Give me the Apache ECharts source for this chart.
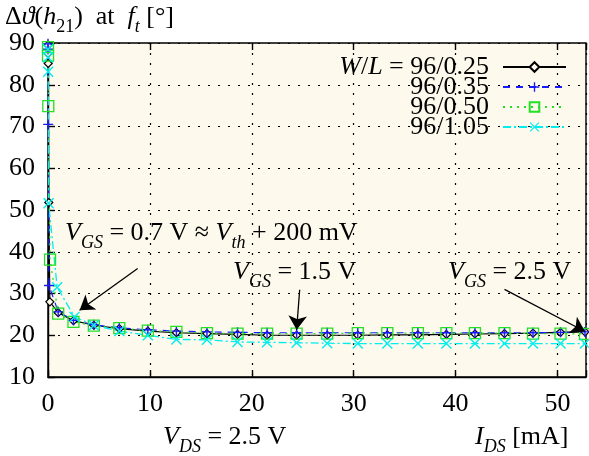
<!DOCTYPE html>
<html>
<head>
<meta charset="utf-8">
<script src="https://cdn.jsdelivr.net/npm/echarts@6/dist/echarts.min.js"></script>
<style>
  html, body { margin: 0; padding: 0; background: #ffffff; }
  #chart { width: 589px; height: 456px; }
</style>
</head>
<body>
<div id="chart"></div>
<script>
// Phase of h21 at the transit frequency vs. drain current, four gate geometries.
const seriesNames = ['96/0.25', '96/0.35', '96/0.50', '96/1.05'];

// drain current I_DS [mA]
const ids025 = [0.0, 0.0, 0.02, 0.08, 0.18, 1.0, 2.5, 4.5, 7.0, 9.8, 12.6, 15.6, 18.6, 21.5, 24.4, 27.4, 30.4, 33.3, 36.3, 39.1, 41.9, 44.8, 47.6, 50.3, 52.7];
const ids035 = [0.0, 0.0, 0.02, 0.1, 1.0, 2.5, 4.5, 7.0, 9.8, 12.6, 15.6, 18.6, 21.5, 24.4, 27.4, 30.4, 33.3, 36.3, 39.1, 41.9, 44.8, 47.6, 50.3, 52.7];
const ids050 = [0.0, 0.0, 0.03, 0.2, 1.0, 2.5, 4.5, 7.0, 9.8, 12.6, 15.6, 18.6, 21.5, 24.4, 27.4, 30.4, 33.3, 36.3, 39.1, 41.9, 44.8, 47.6, 50.3, 52.7];
const ids105 = [0.0, 0.0, 0.02, 0.06, 0.9, 2.6, 4.5, 7.0, 9.8, 12.6, 15.6, 18.6, 21.5, 24.4, 27.4, 30.4, 33.3, 36.3, 39.1, 41.9, 44.8, 47.6, 50.3, 52.7];

// phase deviation [deg]
const phi025 = [89.5, 87.5, 85.1, 51.8, 28.0, 25.4, 23.5, 22.4, 21.6, 21.0, 20.6, 20.4, 20.2, 20.0, 20.0, 20.0, 20.0, 20.1, 20.1, 20.2, 20.3, 20.4, 20.5, 20.7, 20.8];
const phi035 = [89.8, 88.5, 70.5, 31.9, 25.6, 23.6, 22.5, 21.8, 21.3, 21.0, 20.8, 20.7, 20.6, 20.6, 20.6, 20.6, 20.6, 20.6, 20.6, 20.6, 20.6, 20.6, 20.7, 20.8];
const phi050 = [89.0, 87.0, 74.9, 38.1, 25.2, 23.2, 22.3, 21.7, 21.1, 20.8, 20.5, 20.4, 20.4, 20.4, 20.4, 20.5, 20.5, 20.5, 20.5, 20.5, 20.5, 20.4, 20.4, 20.3];
const phi105 = [88.5, 86.5, 83.1, 51.6, 31.5, 24.4, 22.4, 21.0, 20.0, 19.0, 18.9, 18.4, 18.3, 18.2, 18.1, 18.0, 18.0, 18.0, 18.0, 18.0, 18.0, 18.0, 18.0, 18.0];

const xTicks = [0, 10, 20, 30, 40, 50];
const yTicks = [10, 20, 30, 40, 50, 60, 70, 80, 90];

// annotation arrows in data coordinates [fromX, fromY, toX, toY]
const arrowVgs07 = [8.8, 36.0, 3.1, 26.0];
const arrowVgs15 = [24.7, 30.9, 24.4, 21.3];
const arrowVgs25 = [44.8, 31.0, 52.7, 20.9];

const F = "'Liberation Serif', 'DejaVu Serif', serif";
const FS = 26;
const rich = {
  n: { fontFamily: F, fontSize: FS, color: '#000', verticalAlign: 'bottom', padding: [0, 0, 6, 0] },
  i: { fontFamily: F, fontSize: FS, fontStyle: 'italic', color: '#000', verticalAlign: 'bottom', padding: [0, 0, 6, 0] },
  s: { fontFamily: F, fontSize: 18, fontStyle: 'italic', color: '#000', verticalAlign: 'bottom' },
  r: { fontFamily: F, fontSize: 18, color: '#000', verticalAlign: 'bottom' }
};

const pairs = (xs, ys) => xs.map((x, k) => [x, ys[k]]);

const PLUS = 'path://M4.3,0H5.7V4.3H10V5.7H5.7V10H4.3V5.7H0V4.3H4.3Z';
const CROSS = 'path://M0.9,0L5,4.1L9.1,0L10,0.9L5.9,5L10,9.1L9.1,10L5,5.9L0.9,10L0,9.1L4.1,5L0,0.9Z';
const BG = '#fdf9ec';

const chart = echarts.init(document.getElementById('chart'), null, { renderer: 'canvas' });

const arrowLine = a => [{ coord: [a[0], a[1]] }, { coord: [a[2], a[3]] }];

const option = {
  backgroundColor: '#ffffff',
  animation: false,
  grid: {
    left: 48, right: 0, top: 43, bottom: 79,
    show: true, backgroundColor: BG, borderColor: '#000', borderWidth: 1.4
  },
  xAxis: [{
    type: 'value', min: 0, max: 52.8, interval: 10,
    axisLine: { show: true, lineStyle: { color: '#000', width: 1.4 } },
    axisTick: { show: true, inside: true, length: 7, lineStyle: { color: '#000', width: 1.4 } },
    axisLabel: {
      margin: 14, color: '#000', fontFamily: F, fontSize: FS,
      formatter: v => (xTicks.indexOf(v) >= 0 ? String(v) : '')
    },
    splitLine: { show: true, lineStyle: { color: '#000', type: [2, 8], width: 1.2 } }
  }, {
    type: 'value', min: 0, max: 52.8, interval: 10, position: 'top',
    axisLine: { show: false },
    axisTick: { show: true, inside: true, length: 7, lineStyle: { color: '#000', width: 1.4 } },
    axisLabel: { show: false },
    splitLine: { show: false }
  }],
  yAxis: {
    type: 'value', min: 10, max: 90, interval: 10,
    axisLine: { show: true, lineStyle: { color: '#000', width: 1.4 } },
    axisTick: { show: true, inside: true, length: 7, lineStyle: { color: '#000', width: 1.4 } },
    axisLabel: {
      margin: 13, color: '#000', fontFamily: F, fontSize: FS,
      formatter: v => (yTicks.indexOf(v) >= 0 ? String(v) : '')
    },
    splitLine: { show: true, lineStyle: { color: '#000', type: [2, 8], width: 1.2 } }
  },
  legend: {
    orient: 'vertical', right: 22, top: 54, align: 'right', padding: 0,
    itemWidth: 63, itemHeight: 12, itemGap: -6,
    data: seriesNames,
    formatter: name => (name === seriesNames[0] ? '{i|W}{n|/}{i|L}{n| = 96/0.25}' : '{n|' + name + '}'),
    textStyle: {
      padding: [0, 9, 0, 0],
      rich: {
        n: { fontFamily: F, fontSize: FS, color: '#000' },
        i: { fontFamily: F, fontSize: FS, fontStyle: 'italic', color: '#000' }
      }
    }
  },
  series: [{
    name: seriesNames[0], type: 'line', data: pairs(ids025, phi025),
    symbol: 'diamond', symbolSize: 8, showAllSymbol: true,
    lineStyle: { color: '#000', width: 1.2, type: 'solid' },
    itemStyle: { color: BG, borderColor: '#000', borderWidth: 1.2 },
    markLine: {
      silent: true, symbol: ['none', 'arrow'], symbolSize: 14,
      label: { show: false },
      lineStyle: { color: '#000', width: 1.3, type: 'solid' },
      itemStyle: { color: '#000' },
      data: [arrowLine(arrowVgs07), arrowLine(arrowVgs15), arrowLine(arrowVgs25)]
    }
  }, {
    name: seriesNames[1], type: 'line', data: pairs(ids035, phi035),
    symbol: PLUS, symbolSize: 10, showAllSymbol: true,
    lineStyle: { color: '#1a1aff', width: 1.2, type: [7, 6] },
    itemStyle: { color: '#1a1aff' }
  }, {
    name: seriesNames[2], type: 'line', data: pairs(ids050, phi050),
    symbol: 'rect', symbolSize: 11, showAllSymbol: true,
    lineStyle: { color: '#22e022', width: 1.3, type: [2, 5] },
    itemStyle: { color: 'rgba(0,0,0,0)', borderColor: '#22e022', borderWidth: 1.3 }
  }, {
    name: seriesNames[3], type: 'line', data: pairs(ids105, phi105),
    symbol: CROSS, symbolSize: 11, showAllSymbol: true,
    lineStyle: { color: '#00eeee', width: 1.3, type: [8, 3, 2, 3] },
    itemStyle: { color: '#00eeee' }
  }],
  graphic: [{
    type: 'text', x: 5, y: 4,
    style: { text: '{n|Δ}{i|ϑ}{n|(}{i|h}{r|21}{n|)  at  }{i|f}{s|t}{n| [°]}', rich: rich }
  }, {
    type: 'text', x: 65, y: 220,
    style: { text: '{i|V}{s|GS}{n| = 0.7 V ≈ }{i|V}{s|th}{n| + 200 mV}', rich: rich }
  }, {
    type: 'text', x: 233, y: 259,
    style: { text: '{i|V}{s|GS}{n| = 1.5 V}', rich: rich }
  }, {
    type: 'text', x: 448, y: 259,
    style: { text: '{i|V}{s|GS}{n| = 2.5 V}', rich: rich }
  }, {
    type: 'text', x: 163, y: 424,
    style: { text: '{i|V}{s|DS}{n| = 2.5 V}', rich: rich }
  }, {
    type: 'text', x: 475, y: 424,
    style: { text: '{i|I}{s|DS}{n| [mA]}', rich: rich }
  }]
};

chart.setOption(option);
</script>
</body>
</html>
